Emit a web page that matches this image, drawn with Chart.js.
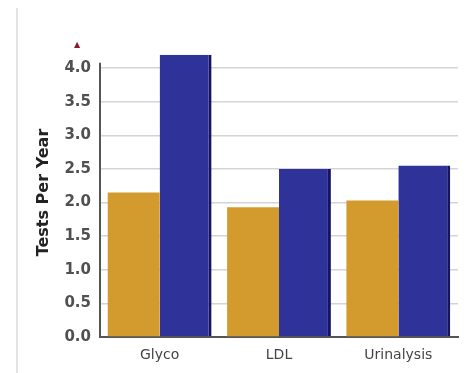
<!DOCTYPE html>
<html>
<head>
<meta charset="utf-8">
<script src="https://cdn.jsdelivr.net/npm/chart.js@4/dist/chart.umd.min.js"></script>
<style>
html,body{margin:0;padding:0;background:#fff;}
#wrap{position:relative;width:466px;height:373px;}
#leftline{position:absolute;left:16px;top:8px;width:0;height:365px;border-left:2px solid #e4e4e4;}
canvas{position:absolute;left:0;top:0;}
</style>
</head>
<body>
<div id="wrap"><div id="leftline"></div><canvas id="c" width="466" height="373"></canvas></div>
<script>
const categories = ['Glyco', 'LDL', 'Urinalysis'];
const seriesA = [2.15, 1.93, 2.03];
const seriesB = [4.2, 2.5, 2.55];
const yTicks = [0, 0.5, 1.0, 1.5, 2.0, 2.5, 3.0, 3.5, 4.0];

const axisPlugin = {
  id: 'axisDeco',
  afterDraw(chart) {
    const ctx = chart.ctx;
    const y = chart.scales.y;
    const x0 = chart.chartArea.left;
    ctx.save();
    ctx.strokeStyle = '#555';
    ctx.lineWidth = 2;
    ctx.beginPath();
    ctx.moveTo(x0, y.getPixelForValue(4.08));
    ctx.lineTo(x0, y.getPixelForValue(0));
    ctx.stroke();
    ctx.fillStyle = '#8b1a2b';
    ctx.font = '8px DejaVu Sans';
    ctx.textAlign = 'center';
    ctx.textBaseline = 'middle';
    ctx.fillText('▲', 77, 45);
    ctx.restore();
  }
};

new Chart(document.getElementById('c'), {
  type: 'bar',
  data: {
    labels: categories,
    datasets: [
      { data: seriesA, backgroundColor: '#d39b2e', borderWidth: 0 },
      { data: seriesB, backgroundColor: '#2f3399', borderColor: '#14155e', borderWidth: {right: 3, top: 0, left: 0, bottom: 0}, borderSkipped: false }
    ]
  },
  options: {
    responsive: false,
    animation: false,
    events: [],
    layout: { padding: { left: 34, right: 8, top: 48, bottom: 0 } },
    plugins: { legend: { display: false }, tooltip: { enabled: false } },
    datasets: { bar: { categoryPercentage: 0.87, barPercentage: 1.0 } },
    scales: {
      x: {
        grid: { display: false, drawTicks: false },
        border: { display: true, color: '#555', width: 2 },
        ticks: { color: '#444', font: { family: 'DejaVu Sans', size: 14 }, padding: 10 },
        afterFit(s) { s.height = 36; }
      },
      y: {
        min: 0, max: 4.3,
        afterBuildTicks(s) { s.ticks = yTicks.map(v => ({ value: v })); },
        grid: { color: '#d4d4d4', lineWidth: 1.5, drawTicks: false },
        border: { display: false },
        ticks: { color: '#505050', font: { family: 'DejaVu Sans', size: 15, weight: 'bold' }, padding: 9,
                 callback: v => Number(v).toFixed(1) },
        title: { display: true, text: 'Tests Per Year', color: '#222', font: { family: 'DejaVu Sans', size: 16, weight: 'bold' }, padding: 0 },
        afterFit(s) { s.width = 66; }
      }
    }
  },
  plugins: [axisPlugin]
});
</script>
</body>
</html>
